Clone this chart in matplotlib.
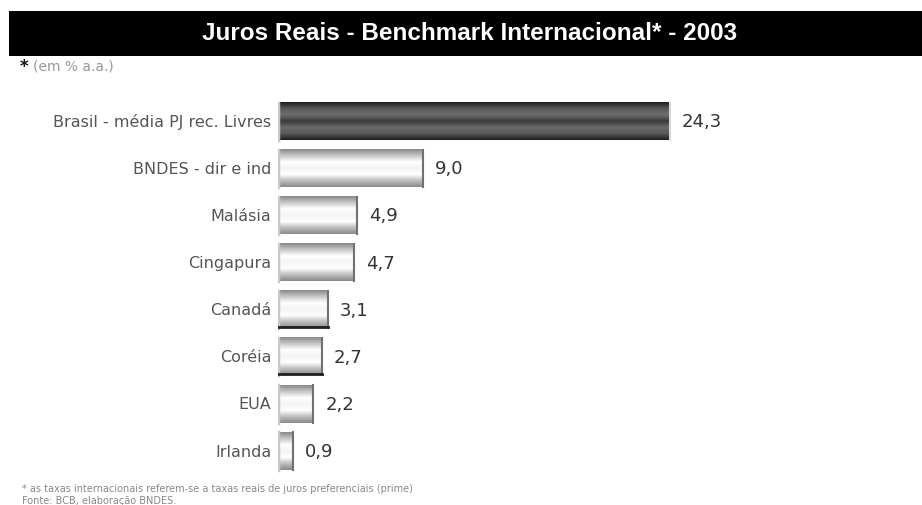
import numpy as np
import matplotlib
matplotlib.use('Agg')
import matplotlib.pyplot as plt
from matplotlib.colors import LinearSegmentedColormap

# dados do grafico
paises = ['Brasil - média PJ rec. Livres', 'BNDES - dir e ind', 'Malásia', 'Cingapura',
          'Canadá', 'Coréia', 'EUA', 'Irlanda']
juros = [24.3, 9.0, 4.9, 4.7, 3.1, 2.7, 2.2, 0.9]
rotulos = ['24,3', '9,0', '4,9', '4,7', '3,1', '2,7', '2,2', '0,9']

titulo = 'Juros Reais - Benchmark Internacional* - 2003'
subtitulo = '(em % a.a.)'
nota = '* as taxas internacionais referem-se a taxas reais de juros preferenciais (prime)'
fonte = 'Fonte: BCB, elaboração BNDES.'

fig = plt.figure(figsize=(9.22, 5.06), dpi=100)
fig.patch.set_facecolor('white')

# faixa preta do titulo
faixa = fig.add_axes([9 / 922, 1 - 57 / 506, 913 / 922, 45 / 506])
faixa.set_facecolor('black')
faixa.set_xticks([])
faixa.set_yticks([])
for s in faixa.spines.values():
    s.set_visible(False)
fig.text(470 / 922, 1 - 33 / 506, titulo, color='white', fontsize=17.5, fontweight='bold',
         family='Liberation Sans', ha='center', va='center')

fig.text(20 / 922, 1 - 67 / 506, '*', fontsize=12, fontweight='bold', color='#111111', va='center')
fig.text(33 / 922, 1 - 67 / 506, subtitulo, fontsize=10, color='#999999', va='center')

ax = fig.add_axes([278 / 922, 0.0508, (899 - 278) / 922, 0.7635])
ax.set_xlim(0, 38.5)
ax.set_ylim(len(paises) - 0.4, -0.6)
ax.axis('off')

# gradientes das barras (claro no meio, escuro nas bordas)
claro = LinearSegmentedColormap.from_list('claro', ['#8a8a8a', '#c8c8c8', '#ffffff', '#f4f4f4',
                                                    '#ffffff', '#c0c0c0', '#8a8a8a'])
escuro = LinearSegmentedColormap.from_list('escuro', ['#1e1e1e', '#5a5a5a', '#6e6e6e', '#3a3a3a',
                                                      '#6a6a6a', '#5a5a5a', '#1e1e1e'])
grad = np.linspace(0, 1, 64).reshape(-1, 1)
h = 0.79

for i, (p, v, r) in enumerate(zip(paises, juros, rotulos)):
    cmap = escuro if i == 0 else claro
    ax.imshow(grad, cmap=cmap, aspect='auto', extent=[0, v, i + h / 2, i - h / 2], zorder=2)
    ax.barh(i, v, height=h, color='none', edgecolor='none', zorder=3)
    # borda esquerda clara e borda direita
    ax.plot([0, 0], [i - h / 2, i + h / 2], color='#c8c8c8', lw=2.5, zorder=4)
    ax.plot([v, v], [i - h / 2, i + h / 2], color='#d8d8d8' if i == 0 else '#707070', lw=1.5, zorder=4)
    if i in (4, 5):
        ax.plot([0, v], [i + h / 2 - 0.03, i + h / 2 - 0.03], color='#202020', lw=2, zorder=4)
    ax.text(v + 0.75, i, r, fontsize=13, color='#333333', va='center', ha='left')
    ax.text(-0.4, i, p, fontsize=11.5, color='#555555', va='center', ha='right')

fig.text(22 / 922, 1 - 489 / 506, nota, fontsize=7, color='#888888', va='center')
fig.text(22 / 922, 1 - 501 / 506, fonte, fontsize=7, color='#888888', va='center')

fig.savefig('out.png', dpi=100)
